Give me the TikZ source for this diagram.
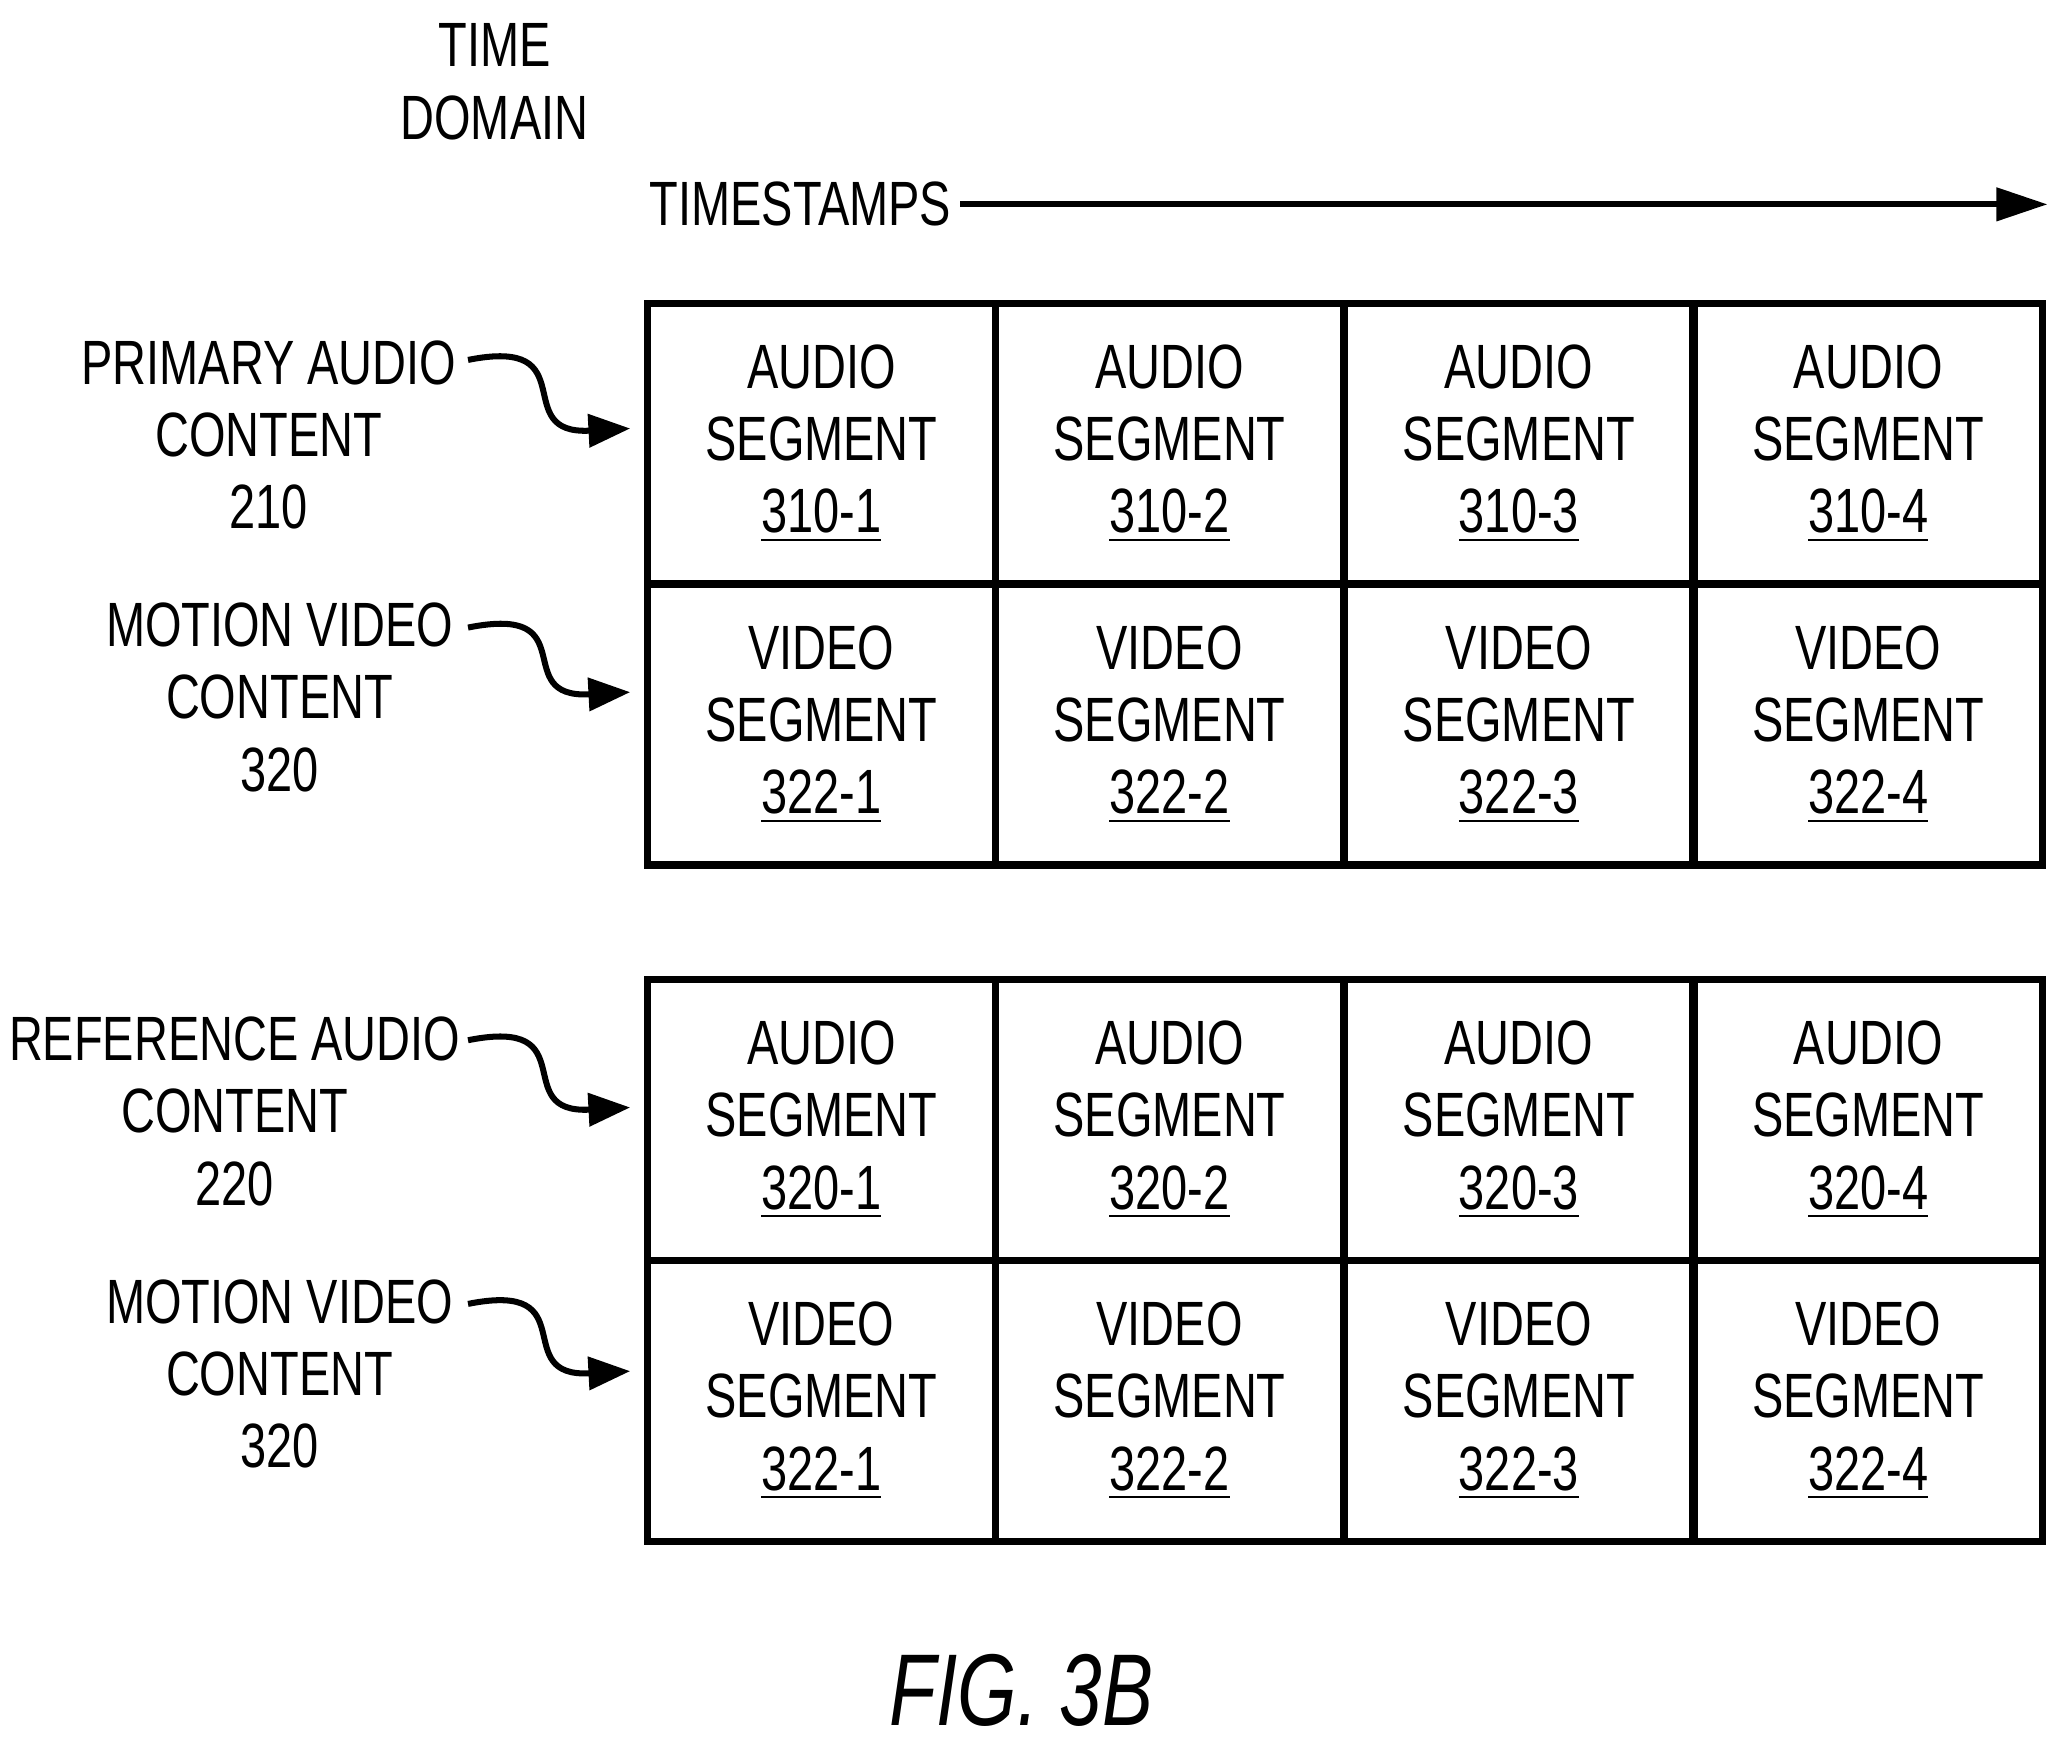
\documentclass[tikz,border=0pt]{standalone}
\usepackage{fontspec}
\setmainfont{Liberation Sans}[FakeStretch=0.75]
\usetikzlibrary{arrows.meta}
\begin{document}
\begin{tikzpicture}[x=0.01cm,y=-0.01cm,
  cell/.style={draw,line width=1.6pt,minimum width=2.64cm,minimum height=2.13cm,inner sep=0pt,outer sep=0pt,anchor=north west,align=center,font=\fontsize{13.5}{15.6}\selectfont},
  lab/.style={align=center,font=\fontsize{13.5}{15.6}\selectfont},
  carr/.style={line width=1.3pt,-{Triangle[length=9pt,width=7pt]}}]
\useasboundingbox (0,0) rectangle (1561,1321);
\node[lab] (td) at (375,62) {TIME\\DOMAIN};
\node[lab,anchor=west,inner sep=0pt] (ts) at (492,155) {TIMESTAMPS};
\coordinate (tsend) at (1553,155);
\draw[line width=1.3pt,-{Triangle[length=11pt,width=7pt]}] (ts.east) ++(6,0) -- (tsend);
\foreach \r/\y/\kind/\num in {a/230/AUDIO/310,b/443/VIDEO/322,c/743/AUDIO/320,d/956/VIDEO/322}{
  \foreach \i/\x in {1/491,2/755,3/1020,4/1285}{
    \node[cell] (\r\i) at (\x,\y) {\kind\\SEGMENT\\\underline{\num-\i}};
  }}
\node[lab] (pa) at (204,330) {PRIMARY AUDIO\\CONTENT\\210};
\node[lab] (mv1) at (212,529) {MOTION VIDEO\\CONTENT\\320};
\node[lab] (ra) at (178,843) {REFERENCE AUDIO\\CONTENT\\220};
\node[lab] (mv2) at (212,1042) {MOTION VIDEO\\CONTENT\\320};
\coordinate (e1) at (478,325); \coordinate (e2) at (478,525);
\coordinate (e3) at (478,840); \coordinate (e4) at (478,1040);
\draw[carr] (355,273) .. controls (445,255) and (385,330) .. (e1);
\draw[carr] (355,476) .. controls (445,458) and (385,530) .. (e2);
\draw[carr] (355,789) .. controls (445,771) and (385,845) .. (e3);
\draw[carr] (355,989) .. controls (445,971) and (385,1045) .. (e4);
\node[font=\fontsize{22}{24}\selectfont\itshape] (fig) at (775,1282) {FIG. 3B};
\end{tikzpicture}
\end{document}
